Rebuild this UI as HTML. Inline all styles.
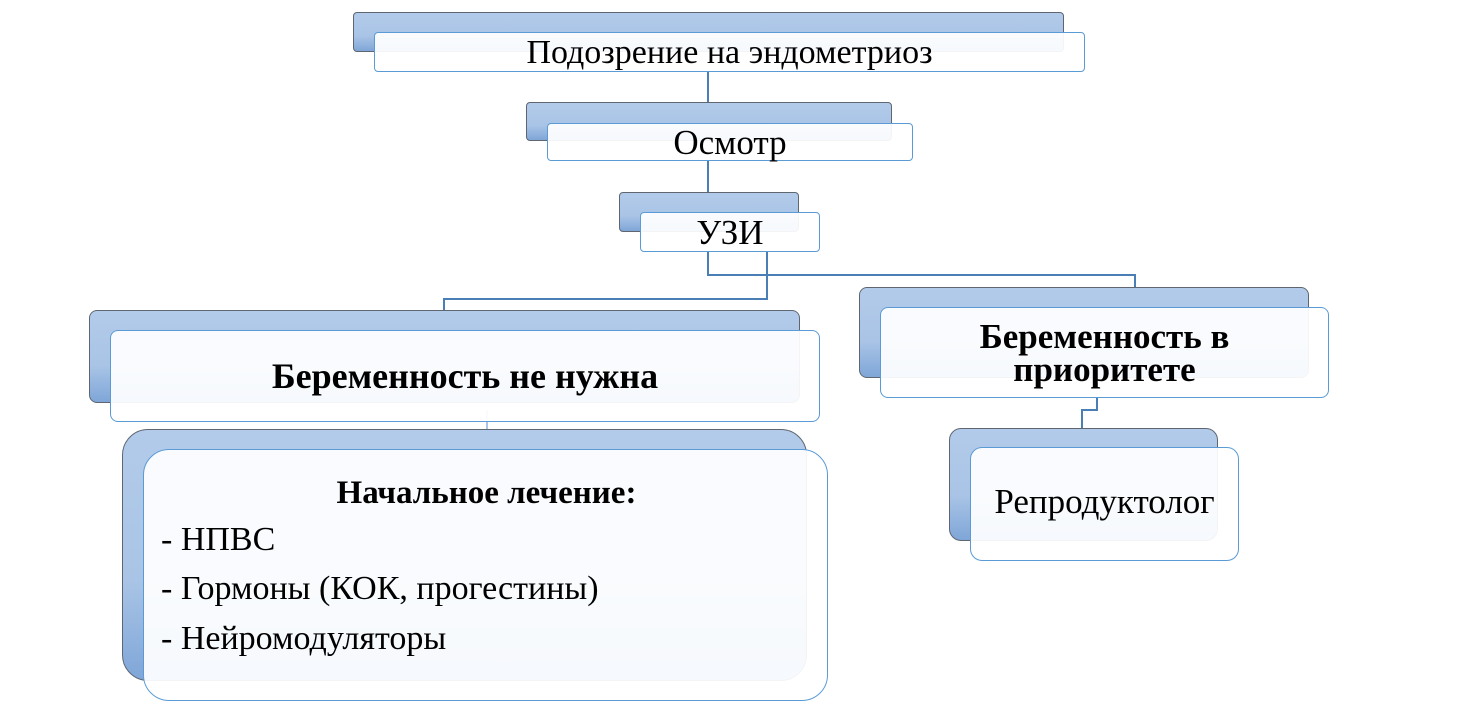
<!DOCTYPE html>
<html><head><meta charset="utf-8"><style>
body{margin:0;width:1458px;height:714px;background:#fff;position:relative;overflow:hidden;font-family:"Liberation Serif","Noto Serif CJK SC",serif;color:#000}
.b{position:absolute;box-sizing:border-box;border:1.5px solid #5f6670;border-radius:4px;background:linear-gradient(#b3cbea,#a9c4e6 60%,#7fa6d8)}
.f{position:absolute;box-sizing:border-box;border:1.5px solid #5b9bd5;border-radius:4px;background:rgba(255,255,255,0.93);display:flex;align-items:center;justify-content:center;text-align:center;font-size:35px;line-height:33px;white-space:nowrap}
.l{position:absolute;background:#4a7fb5}
</style></head><body>
<div class="l" style="left:707px;top:71px;width:2px;height:32px"></div>
<div class="l" style="left:707px;top:160px;width:2px;height:33px"></div>
<div class="l" style="left:707px;top:251px;width:2px;height:25px"></div>
<div class="l" style="left:707px;top:274px;width:429px;height:2px"></div>
<div class="l" style="left:1134px;top:274px;width:2px;height:14px"></div>
<div class="l" style="left:766px;top:251px;width:2px;height:49px"></div>
<div class="l" style="left:443px;top:298px;width:325px;height:2px"></div>
<div class="l" style="left:443px;top:298px;width:2px;height:12px"></div>
<div class="l" style="left:1096px;top:397px;width:2px;height:14px"></div>
<div class="l" style="left:1081px;top:409px;width:17px;height:2px"></div>
<div class="l" style="left:1081px;top:409px;width:2px;height:20px"></div>
<div class="l" style="left:486px;top:410px;width:2px;height:20px;background:#a9c4e6"></div>

<div class="b" style="left:353px;top:12px;width:711px;height:40px"></div>
<div class="f" style="left:374px;top:32px;width:711px;height:40px;font-size:34px">Подозрение на эндометриоз</div>
<div class="b" style="left:526px;top:102px;width:366px;height:39px"></div>
<div class="f" style="left:547px;top:123px;width:366px;height:38px">Осмотр</div>
<div class="b" style="left:619px;top:192px;width:180px;height:40px"></div>
<div class="f" style="left:640px;top:212px;width:180px;height:40px">УЗИ</div>

<div class="b" style="left:89px;top:310px;width:711px;height:93px;border-radius:8px"></div>
<div class="f" style="left:110px;top:330px;width:710px;height:92px;border-radius:8px;font-weight:bold;font-size:36px">Беременность не нужна</div>
<div class="b" style="left:859px;top:287px;width:450px;height:91px;border-radius:8px"></div>
<div class="f" style="left:880px;top:307px;width:449px;height:91px;border-radius:8px;font-weight:bold;align-items:flex-start;padding-top:12px">Беременность в<br>приоритете</div>
<div class="b" style="left:949px;top:428px;width:269px;height:113px;border-radius:12px"></div>
<div class="f" style="left:970px;top:447px;width:269px;height:114px;border-radius:12px;padding-bottom:6px">Репродуктолог</div>

<div class="b" style="left:122px;top:429px;width:685px;height:252px;border-radius:26px"></div>
<div class="f" style="left:143px;top:449px;width:685px;height:252px;border-radius:26px;display:block;text-align:left;font-size:34px">
<div style="position:absolute;left:0;width:685px;text-align:center;top:27px;font-weight:bold;font-size:33px">Начальное лечение:</div>
<div style="position:absolute;left:17px;top:73px">- НПВС</div>
<div style="position:absolute;left:17px;top:122px">- Гормоны (КОК, прогестины)</div>
<div style="position:absolute;left:17px;top:172px">- Нейромодуляторы</div>
</div>
</body></html>
